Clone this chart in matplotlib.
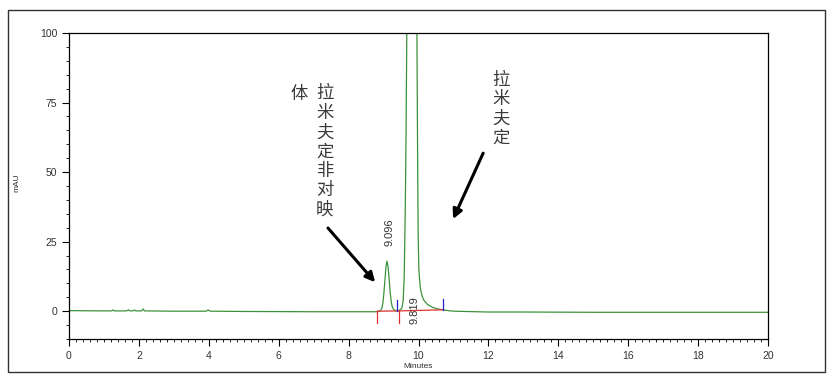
import matplotlib
matplotlib.use('Agg')
import matplotlib.pyplot as plt
from matplotlib.patches import Rectangle
from matplotlib.ticker import MultipleLocator

plt.rcParams['font.family'] = ['Liberation Sans', 'Noto Sans CJK SC', 'DejaVu Sans']

# chromatogram trace (minutes, mAU)
times = [0.0, 0.5, 1.0, 1.22, 1.26, 1.30, 1.65, 1.70, 1.75, 1.83, 1.87, 1.91,
         2.08, 2.12, 2.16, 3.0, 3.93, 3.98, 4.04, 5.0, 6.0, 7.0, 8.0, 8.80,
         8.88, 8.92, 8.95, 8.98, 9.01, 9.04, 9.07, 9.10, 9.13, 9.16, 9.19,
         9.22, 9.25, 9.29, 9.34, 9.39, 9.45, 9.52, 9.56, 9.59, 9.62, 9.645,
         9.665, 9.70, 9.82, 9.93, 9.955, 9.975, 9.99, 10.01, 10.05, 10.10,
         10.15, 10.25, 10.40, 10.55, 10.70, 10.85, 11.0, 12.0, 13.0, 14.0,
         15.0, 17.0, 20.0]
signal = [0.2, 0.15, 0.1, 0.1, 0.45, 0.1, 0.1, 0.5, 0.1, 0.1, 0.45, 0.1,
          0.1, 0.8, 0.1, 0.0, 0.0, 0.45, 0.0, -0.1, -0.15, -0.2, -0.2, -0.2,
          0.0, 0.3, 1.0, 2.8, 6.5, 11.3, 16.0, 18.0, 16.0, 11.5, 6.8,
          3.3, 1.5, 0.6, 0.2, 0.1, 0.3, 1.0, 3.5, 12, 35, 65,
          100, 180, 450, 180, 100, 55, 28, 15, 8.5, 5.5,
          4.0, 2.5, 1.4, 0.8, 0.5, 0.2, 0.0, -0.3, -0.3, -0.35,
          -0.4, -0.4, -0.4]

# integration marks
peak_labels = ['9.096', '9.819']
label_x = [9.16, 9.88]
label_y = [23.5, -4.5]
base_t = [8.82, 9.45, 10.70]
base_y = [0.0, 0.1, 0.5]
start_marks = [8.82, 9.45]   # red
end_marks = [9.39, 10.70]    # blue
end_marks_y = [0.1, 0.5]

W, H = 833, 381
fig = plt.figure(figsize=(W / 100, H / 100), dpi=100)
fig.patches.append(Rectangle((8 / W, 1 - 372 / H), 817 / W, 362 / H,
                             transform=fig.transFigure, fill=False,
                             edgecolor='#333333', lw=1.0))

ax = fig.add_axes([69 / W, 42 / H, 699 / W, 306 / H])
ax.plot(times, signal, color='#3a933a', lw=0.9)

# baseline and peak start/end ticks
ax.plot(base_t, base_y, color='#e03030', lw=0.9)
for t in start_marks:
    ax.plot([t, t], [0, -4.3], color='#e03030', lw=0.9)
for t, y in zip(end_marks, end_marks_y):
    ax.plot([t, t], [y, y + 4.0], color='#2222cc', lw=0.9)

for lab, x, y in zip(peak_labels, label_x, label_y):
    ax.text(x, y, lab, rotation=90, ha='center', va='bottom', fontsize=8,
            color='#333333')

cjk = ['Noto Sans CJK SC', 'DejaVu Sans']
ax.text(6.58, 78, '体', ha='center', va='center', fontsize=12.5,
        family=cjk, color='#3a3a3a')
ax.text(7.32, 81.5, '拉\n米\n夫\n定\n非\n对\n映', ha='center', va='top',
        fontsize=12.5, family=cjk, color='#3a3a3a', linespacing=1.1)
ax.text(12.36, 86.5, '拉\n米\n夫\n定', ha='center', va='top',
        fontsize=12.5, family=cjk, color='#3a3a3a', linespacing=1.1)

arrow = dict(arrowstyle='-|>', lw=2.2, color='black', mutation_scale=14,
             shrinkA=0, shrinkB=0)
ax.annotate('', xy=(8.76, 10.4), xytext=(7.41, 29.9), arrowprops=arrow)
ax.annotate('', xy=(10.99, 33.1), xytext=(11.85, 56.8), arrowprops=arrow)

ax.set_xlim(0, 20)
ax.set_ylim(-10, 100)
ax.xaxis.set_major_locator(MultipleLocator(2))
ax.xaxis.set_minor_locator(MultipleLocator(0.2))
ax.yaxis.set_major_locator(MultipleLocator(25))
ax.yaxis.set_minor_locator(MultipleLocator(5))
ax.tick_params(which='major', direction='out', length=5, width=0.8,
               labelsize=7.5, labelcolor='#333333')
ax.tick_params(which='minor', direction='out', length=2.5, width=0.6)
for s in ax.spines.values():
    s.set_linewidth(0.9)

fig.text(17 / W, 1 - 183 / H, 'mAU', rotation=90, ha='center', va='center',
         fontsize=6, color='#333333')
fig.text(418 / W, 1 - 367 / H, 'Minutes', ha='center', va='center',
         fontsize=6, color='#333333')

fig.savefig('out.png', dpi=100)
